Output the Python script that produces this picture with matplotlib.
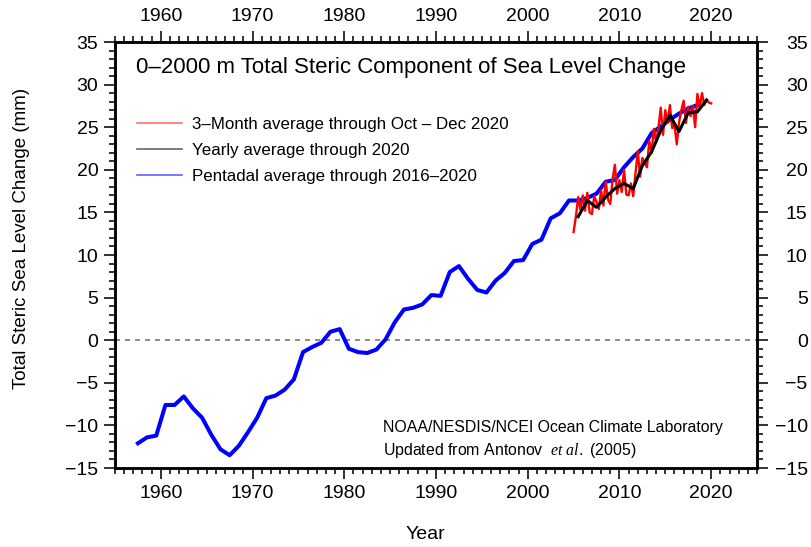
import numpy as np
import matplotlib
matplotlib.use("Agg")
import matplotlib.pyplot as plt
from matplotlib.lines import Line2D
from matplotlib.ticker import MultipleLocator

plt.rcParams['font.family'] = ['Liberation Sans', 'DejaVu Sans']
plt.rcParams['mathtext.fontset'] = 'custom'
plt.rcParams['mathtext.it'] = 'Liberation Serif:italic'
plt.rcParams['mathtext.rm'] = 'Liberation Sans'

# pentadal running means, centred on mid-year
pent_years = np.arange(1957.5, 2019.0, 1.0)
pent_vals = [-12.1, -11.4, -11.2, -7.6, -7.6, -6.6, -8.0, -9.1, -11.1, -12.8,
             -13.5, -12.4, -10.8, -9.1, -6.8, -6.5, -5.8, -4.6, -1.4, -0.8,
             -0.3, 1.0, 1.3, -1.0, -1.4, -1.5, -1.1, 0.1, 2.1, 3.6,
             3.8, 4.2, 5.3, 5.2, 8.0, 8.7, 7.2, 5.9, 5.6, 7.0,
             7.9, 9.3, 9.4, 11.3, 11.8, 14.3, 14.9, 16.4, 16.4, 16.7,
             17.2, 18.6, 18.8, 20.3, 21.5, 22.5, 24.3, 25.1, 25.9, 26.6,
             27.2, 27.6]

# yearly means 2005-2019
year_years = np.arange(2005.5, 2020.0, 1.0)
year_vals = [14.5, 16.4, 15.6, 16.8, 17.8, 18.4, 17.8, 20.5, 22.1, 24.6,
             26.4, 24.5, 26.7, 26.8, 28.2]

# 3-month means
q_years = np.arange(2005.0, 2020.01, 0.25)
q_vals = [12.7, 14.5, 16.8, 15.3,
          17.0, 15.2, 17.3, 15.0,
          14.8, 16.9, 16.2, 15.4,
          17.6, 15.8, 18.6, 16.5,
          16.0, 18.9, 20.6, 17.2,
          18.8, 17.4, 20.0, 17.1,
          17.0, 18.4, 16.9, 19.6,
          22.2, 19.2, 21.4, 20.8,
          20.3, 23.4, 22.0, 24.8,
          23.3, 24.9, 27.3, 24.1,
          27.0, 25.5, 27.6, 24.9,
          25.3, 23.0, 25.6, 27.0,
          28.1, 25.5, 27.4, 26.3,
          27.5, 25.0, 28.9, 27.3,
          29.0, 27.6, 28.2, 27.9,
          27.8]

labels = ["3\u2013Month average through Oct \u2013 Dec 2020",
          "Yearly average through 2020",
          "Pentadal average through 2016\u20132020"]

yticks = np.arange(-15, 36, 5)
ylabels = [str(v).replace('-', '\u2212') for v in yticks]

fig = plt.figure(figsize=(8.12, 5.47), dpi=100)
ax = fig.add_axes([0.1416, 0.1444, 0.7907, 0.7788])

ax.axhline(0, color='#777777', lw=1.2, ls=(0, (3, 3)), zorder=1)
ax.plot(pent_years, pent_vals, color='#0000ff', lw=2.9, zorder=2)
ax.plot(q_years, q_vals, color='#ff0000', lw=1.7, zorder=3)
ax.plot(year_years, year_vals, color='black', lw=2.2, zorder=4)

ax.set_xlim(1955, 2025)
ax.set_ylim(-15, 35)

# right-hand scale on a twin: labels right-aligned near the figure edge
ax2 = ax.twinx()
ax2.set_ylim(-15, 35)

ax.xaxis.set_major_locator(MultipleLocator(10))
ax.xaxis.set_minor_locator(MultipleLocator(1))
for a in (ax, ax2):
    a.yaxis.set_minor_locator(MultipleLocator(1))
    a.set_yticks(yticks)
    a.set_yticklabels(ylabels)
    a.tick_params(which='both', direction='out', width=1.3, color='#222222')
    a.tick_params(which='major', length=8, labelsize=14)
    a.tick_params(which='minor', length=4.5)
    for s in a.spines.values():
        s.set_linewidth(1.8)
ax.tick_params(top=True, labeltop=True, right=False, which='both')
ax.tick_params(which='major', pad=4)
ax2.tick_params(which='major', pad=28.5)
for t in ax2.get_yticklabels():
    t.set_ha('right')

ax.set_ylabel("Total Steric Sea Level Change (mm)", fontsize=13.5)
ax.yaxis.set_label_coords(-0.132, 0.54)
ax.set_xlabel("Year", fontsize=14)
ax.xaxis.set_label_coords(0.483, -0.157)
ax.xaxis.label.set_va('center')

ax.text(0.0327, 0.939, "0\u20132000 m Total Steric Component of Sea Level Change",
        transform=ax.transAxes, fontsize=16, va='center', ha='left')

handles = [Line2D([], [], color='#ff7070', lw=1.2),
           Line2D([], [], color='#666666', lw=1.2),
           Line2D([], [], color='#6060ff', lw=1.2)]
ax.legend(handles, labels, loc='upper left', bbox_to_anchor=(0.01, 0.86),
          frameon=False, fontsize=12.2, handlelength=2.7, handletextpad=0.55,
          labelspacing=0.64)

ax.text(0.4175, 0.096, "NOAA/NESDIS/NCEI Ocean Climate Laboratory",
        transform=ax.transAxes, fontsize=11.4, va='center', ha='left')
ax.text(0.4175, 0.042, r"Updated from Antonov  $\mathit{et\ al.}$ (2005)",
        transform=ax.transAxes, fontsize=11.4, va='center', ha='left')

fig.savefig("out.png", dpi=100)
